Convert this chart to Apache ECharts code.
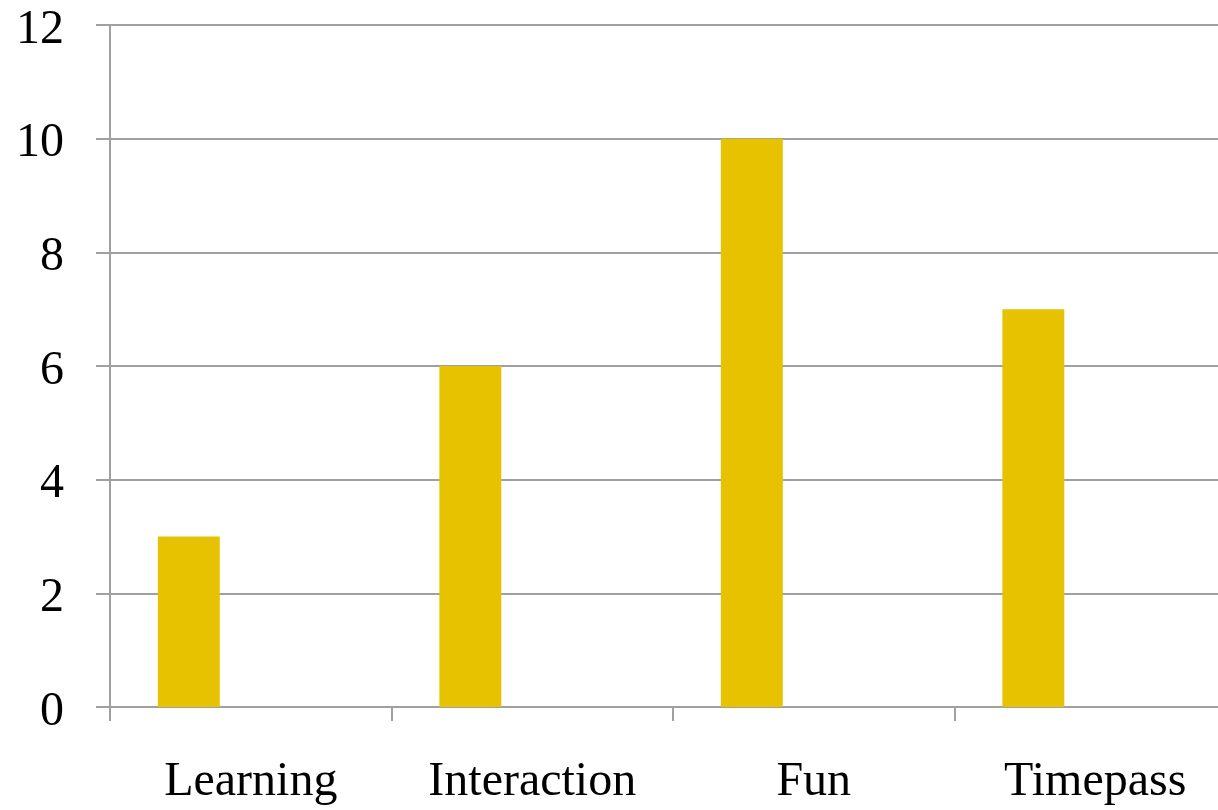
<!DOCTYPE html>
<html>
<head>
<meta charset="utf-8">
<script src="https://cdn.jsdelivr.net/npm/echarts@6/dist/echarts.min.js"></script>
<style>
  html, body { margin: 0; padding: 0; background: #ffffff; overflow: hidden; }
  #wrap { width: 1218px; height: 810px; overflow: hidden; }
  /* the plot runs a little past the right edge of the page */
  #chart { width: 1236px; height: 810px; }
</style>
</head>
<body>
<div id="wrap"><div id="chart"></div></div>
<script>
// Categories and values
const categories = ['Learning', 'Interaction', 'Fun', 'Timepass'];
const series1 = [3, 6, 10, 7];
// Two further series slots with no values (keep bar spacing per category)
const series2 = [];
const series3 = [];
const yMin = 0, yMax = 12, yStep = 2;

const gridColor = '#a0a0a0';
const barColor = '#e6c200';
const fontFamily = '"Liberation Serif", "DejaVu Serif", serif';

const chart = echarts.init(document.getElementById('chart'), null, { renderer: 'canvas' });

chart.setOption({
  animation: false,
  backgroundColor: '#ffffff',
  grid: { left: 110, top: 25, right: 0, height: 682, containLabel: false },
  xAxis: {
    type: 'category',
    data: categories,
    boundaryGap: true,
    axisLine: { show: true, lineStyle: { color: gridColor, width: 2 } },
    axisTick: { show: true, interval: 0, length: 14, alignWithLabel: false, lineStyle: { color: gridColor, width: 2 } },
    axisLabel: { interval: 0, margin: 51, color: '#000000', fontSize: 48, fontFamily: fontFamily }
  },
  yAxis: {
    type: 'value',
    min: yMin,
    max: yMax,
    interval: yStep,
    axisLine: { show: true, lineStyle: { color: gridColor, width: 2 } },
    axisTick: { show: true, length: 14, lineStyle: { color: gridColor, width: 2 } },
    splitLine: { show: true, lineStyle: { color: gridColor, width: 2 } },
    axisLabel: {
      margin: 46,
      formatter: '{v|{value}}',
      rich: { v: { padding: [10, 0, 0, 0], color: '#000000', fontSize: 48, fontFamily: fontFamily } }
    }
  },
  series: [
    { name: 'Series 1', type: 'bar', data: series1, barGap: '0%', barCategoryGap: '34%', itemStyle: { color: barColor } },
    { name: 'Series 2', type: 'bar', data: series2, itemStyle: { color: '#c0504d' } },
    { name: 'Series 3', type: 'bar', data: series3, itemStyle: { color: '#9bbb59' } }
  ]
});
</script>
</body>
</html>
